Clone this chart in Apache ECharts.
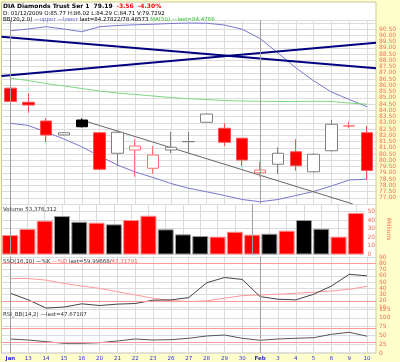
<!DOCTYPE html>
<html><head><meta charset="utf-8">
<script src="https://cdn.jsdelivr.net/npm/echarts@6/dist/echarts.min.js"></script>
<style>html,body{margin:0;padding:0;background:#ffffcc}#c{width:400px;height:362px}</style>
</head><body><div id="c"></div>
<script>
const dates = ['Jan','13','14','15','16','20','21','22','23','26','27','28','29','30','Feb','3','4','5','6','9','10'];
const opens  = [85.77,84.64,83.14,82.02,83.22,82.20,80.56,80.82,79.36,80.82,81.48,83.04,82.56,81.76,79.00,79.68,80.68,79.08,80.76,82.74,82.20];
const closes = [84.71,84.42,82.02,82.20,82.68,79.28,82.24,81.14,80.42,81.04,81.50,83.70,81.44,80.02,79.22,80.56,79.56,80.48,82.88,82.75,79.19];
const lows   = [84.29,83.80,81.44,81.98,82.62,79.22,79.54,78.68,78.90,80.56,80.56,83.00,81.14,79.54,78.68,78.90,79.16,79.00,80.70,82.56,78.42];
const highs  = [86.02,85.36,83.36,82.24,83.36,82.24,82.42,81.68,81.14,82.28,82.28,83.74,82.96,81.80,79.88,81.04,81.68,80.56,83.22,83.08,82.74];
const priorClose = 86.0;
const volumes = [22.6,29.6,39.2,44.6,38.0,36.9,35.0,40.0,45.0,29.2,23.4,21.4,20.7,26.4,23.0,24.1,27.6,40.0,29.9,20.7,48.2];
const bbUpper = [90.36,90.50,90.68,90.50,90.28,90.68,90.78,90.84,90.88,90.94,90.98,90.96,90.82,90.48,89.74,88.58,87.40,86.36,85.46,84.86,84.28];
const bbLower = [82.96,82.78,82.26,81.70,81.08,80.34,79.62,79.06,78.62,78.14,77.76,77.48,77.18,76.86,76.68,76.86,77.18,77.50,77.94,78.42,78.49];
const ma50 = [86.56,86.38,86.14,85.94,85.74,85.54,85.38,85.26,85.14,85.02,84.92,84.86,84.78,84.74,84.72,84.70,84.70,84.72,84.70,84.58,84.48];
const trendA = [[-0.5,89.88],[20.5,87.36]];
const trendB = [[-0.5,86.74],[20.5,89.40]];
const trendC = [[4,83.22],[19.2,76.5]];
const stochK = [32.2,21.6,8.5,10.1,15.3,12.6,14.8,15.8,21.1,21.6,25.2,48.9,57.4,54.3,26.8,22.7,21.6,30.6,43.7,62.6,60.0];
const stochD = [55.8,55.8,53.2,47.9,43.7,40.0,34.7,29.5,24.3,20.5,18.9,20.0,24.3,28.4,29.5,30.6,32.2,33.8,35.8,38.5,43.3];
const rsi = [39.8,36.9,32.2,27.6,27.6,29.3,34.1,39.8,36.9,37.8,41.8,48.3,51.1,41.8,36.1,39.8,41.8,43.5,53.1,58.8,47.7];
const stochTicks = [10,20,30,40,50,60,70,80,90];
const priceLabelMax = 90.5;

const RED='#ff0000', GRID='#dcdcdc', LBL='#f07050', FONT='DejaVu Sans';
const candleData = opens.map((o,i)=>{
  const c=closes[i], prev = i?closes[i-1]:priorClose;
  const isRed = c<prev, hollow = c>=o;
  let fill, border;
  if(hollow){fill='#ffffff'; border=isRed?'#ff7070':'#808080';}
  else {fill=isRed?RED:'#000000'; border=isRed?'#ff5050':'#000000';}
  return {value:[o,c,lows[i],highs[i]], itemStyle:{color:fill,color0:fill,borderColor:border,borderColor0:border,borderWidth:1}};
});
const volData = volumes.map((v,i)=>{
  const prev=i?closes[i-1]:priorClose; const isRed=closes[i]<prev;
  return {value:v,itemStyle:{color:isRed?RED:'#000',borderColor:isRed?'#ff9090':'#9a9a9a',borderWidth:1}};
});
const L=1.5, R=24;
const grids=[
  {left:L,right:R,top:20.25,height:183.75},
  {left:L,right:R,top:204,height:50.5},
  {left:L,right:R,top:256.5,height:52.5},
  {left:L,right:R,top:309,height:44}
];
function xAx(gi,show){
  return {type:'category',gridIndex:gi,data:dates,boundaryGap:true,
    axisLine:{show:false},axisTick:{show:false},
    axisLabel:{show:show,interval:0,color:'#2a2ad0',fontSize:5.5,fontFamily:FONT,margin:3,
      formatter:v=>(v==='Jan'||v==='Feb')?'{b|'+v+'}':v, rich:{b:{fontWeight:'bold',fontSize:5.5,color:'#2a2ad0',fontFamily:FONT}}},
    splitLine:{show:true,alignWithLabel:true,lineStyle:{color:GRID,width:1}}};
}
function monthLines(){
  return {symbol:'none',silent:true,label:{show:false},lineStyle:{color:'#a0a0a0',type:'solid',width:1},data:[{xAxis:'Jan'},{xAxis:'Feb'}]};
}
const yLab={color:LBL,fontSize:6,fontFamily:FONT,margin:3};
const T=(top,text,extra)=>Object.assign({left:3,top:top,padding:0,itemGap:0,text:text},extra);
const ts=(c,extra)=>Object.assign({fontSize:5.5,lineHeight:7,fontWeight:'normal',color:c,fontFamily:FONT},extra||{});
const option={
  animation:false,
  backgroundColor:'#ffffcc',
  graphic:[{type:'rect',z:-10,shape:{x:1.5,y:2,width:374.5,height:351},style:{fill:'#ffffff',stroke:'#c8c8a0',lineWidth:1}}],
  title:[
    T(3,'{a|DIA Diamonds Trust Ser 1  79.19}  {r|-3.56  -4.30%}',{textStyle:ts('#000',{fontSize:6,rich:{a:{fontSize:6,lineHeight:7,fontWeight:'bold',color:'#000',fontFamily:FONT},r:{fontSize:6,lineHeight:7,fontWeight:'bold',color:'#ff0000',fontFamily:FONT}}})}),
    T(10,'D: 01/12/2009 O:85.77 H:86.02 L:84.29 C:84.71 V:79.7292',{textStyle:ts('#000')}),
    T(16,'BB(20,2.0) {b|—upper —lower} last=84.27822/78.48573 {g|MA(50) —last=84.4766}',{textStyle:ts('#000',{rich:{b:{fontSize:5.5,lineHeight:7,color:'#6a6ad0',fontFamily:FONT},g:{fontSize:5.5,lineHeight:7,color:'#33bb33',fontFamily:FONT}}})}),
    T(206,'Volume 53,376,312',{textStyle:ts('#333')}),
    T(258,'SSO(16,10) —%K {r|—%D} last=59.99668/{r|43.31791}',{textStyle:ts('#333',{rich:{r:{fontSize:5.5,lineHeight:7,color:'#ff6060',fontFamily:FONT}}})}),
    T(311,'RSI_BB(14,2) —last=47.67187',{textStyle:ts('#333')})
  ],
  grid:grids,
  xAxis:[xAx(0,false),xAx(1,false),xAx(2,false),xAx(3,true),
    {type:'value',gridIndex:0,min:-0.5,max:20.5,show:false}],
  yAxis:[
    {type:'value',gridIndex:0,position:'right',min:76.5,max:91.2,interval:0.5,scale:true,
     axisLine:{show:false},axisTick:{show:false},
     axisLabel:Object.assign({formatter:v=>v>priceLabelMax?'':v.toFixed(2),showMinLabel:false,showMaxLabel:false},yLab),
     splitLine:{lineStyle:{color:GRID}}},
    {type:'value',gridIndex:1,position:'right',min:0,max:58.6,interval:10,
     axisLine:{show:false},axisTick:{show:false},
     axisLabel:Object.assign({showMaxLabel:false},yLab),splitLine:{lineStyle:{color:GRID}},
     name:'Millions',nameLocation:'middle',nameRotate:-90,nameGap:13,nameTextStyle:{color:LBL,fontSize:6,fontFamily:FONT}},
    {type:'value',gridIndex:2,position:'right',min:7,max:91,
     axisLine:{show:false},axisTick:{show:false,customValues:stochTicks},
     axisLabel:Object.assign({customValues:stochTicks},yLab),splitLine:{lineStyle:{color:GRID}}},
    {type:'value',gridIndex:3,position:'right',min:0,max:125,interval:25,
     axisLine:{show:false},axisTick:{show:false},
     axisLabel:yLab,splitLine:{lineStyle:{color:GRID}}}
  ],
  series:[
    {type:'candlestick',xAxisIndex:0,yAxisIndex:0,barWidth:12,data:candleData,z:4,
     markLine:{symbol:'none',silent:true,data:[{yAxis:closes[20]}],lineStyle:{opacity:0},
       label:{position:'end',formatter:closes[20].toFixed(2),backgroundColor:RED,color:'#fff',fontSize:6,fontWeight:'bold',fontFamily:FONT,padding:[2,3,1,2],distance:1}}},
    {type:'line',xAxisIndex:0,yAxisIndex:0,data:bbUpper,symbol:'none',lineStyle:{color:'#7878d0',width:1},z:3,markLine:monthLines()},
    {type:'line',xAxisIndex:0,yAxisIndex:0,data:bbLower,symbol:'none',lineStyle:{color:'#7878d0',width:1},z:3},
    {type:'line',xAxisIndex:0,yAxisIndex:0,data:ma50,symbol:'none',lineStyle:{color:'#80d880',width:1},z:3},
    {type:'line',xAxisIndex:4,yAxisIndex:0,data:trendA,symbol:'none',lineStyle:{color:'#000080',width:2},z:3},
    {type:'line',xAxisIndex:4,yAxisIndex:0,data:trendB,symbol:'none',lineStyle:{color:'#000080',width:2},z:3},
    {type:'line',xAxisIndex:4,yAxisIndex:0,data:trendC,symbol:'none',lineStyle:{color:'#666666',width:1},z:3},
    {type:'bar',xAxisIndex:1,yAxisIndex:1,data:volData,barWidth:16,z:3,
     markLine:{symbol:'none',silent:true,data:[{yAxis:volumes[20]}],lineStyle:{opacity:0},
       label:{position:'end',formatter:volumes[20].toFixed(1)+' M',backgroundColor:RED,color:'#fff',fontSize:6,fontWeight:'bold',fontFamily:FONT,padding:[2,3,1,2],distance:1}}},
    {type:'line',xAxisIndex:1,yAxisIndex:1,data:[],markLine:monthLines()},
    {type:'line',xAxisIndex:2,yAxisIndex:2,data:stochD,symbol:'none',lineStyle:{color:'#ff9a9a',width:1},z:3,
     markLine:{symbol:'none',silent:true,label:{show:false},lineStyle:{color:'#ff9a9a',type:'solid',width:1},data:[{yAxis:80},{yAxis:20},{xAxis:'Jan',lineStyle:{color:'#a0a0a0'}},{xAxis:'Feb',lineStyle:{color:'#a0a0a0'}}]}},
    {type:'line',xAxisIndex:2,yAxisIndex:2,data:stochK,symbol:'none',lineStyle:{color:'#444444',width:1},z:4},
    {type:'line',xAxisIndex:3,yAxisIndex:3,data:rsi,symbol:'none',lineStyle:{color:'#555555',width:1},z:4,
     markLine:{symbol:'none',silent:true,label:{show:false},lineStyle:{color:'#ff9a9a',type:'solid',width:1},data:[{yAxis:70},{yAxis:30},{xAxis:'Jan',lineStyle:{color:'#a0a0a0'}},{xAxis:'Feb',lineStyle:{color:'#a0a0a0'}}]}}
  ]
};
const chart=echarts.init(document.getElementById('c'),null,{renderer:'canvas'});
chart.setOption(option);
</script></body></html>
